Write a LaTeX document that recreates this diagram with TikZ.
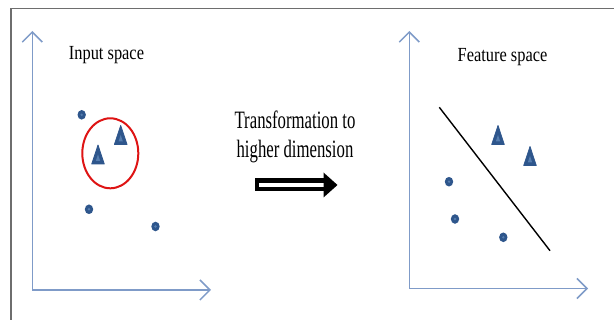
\documentclass[tikz,border=0pt]{standalone}
\usepackage{fontspec}
\setmainfont{Liberation Serif}
\newfontfamily\titlefont[FakeStretch=0.82]{Liberation Serif}
\newfontfamily\transfont[FakeStretch=0.67]{Liberation Serif}
\usetikzlibrary{arrows.meta}
\definecolor{axiscol}{RGB}{127,155,200}
\definecolor{ptcol}{RGB}{46,86,140}
\definecolor{ptlight}{RGB}{85,125,175}
\definecolor{framecol}{RGB}{110,110,110}
\definecolor{ringcol}{RGB}{222,20,20}
\begin{document}
\begin{tikzpicture}[x=1pt,y=-1pt,
  axisline/.style={draw=axiscol,line width=1.6pt,-{Straight Barb[length=10pt,width=20pt,line width=1.5pt]}},
  titletext/.style={anchor=base,inner sep=0pt,font=\titlefont\fontsize{20}{24}\selectfont},
  transtext/.style={anchor=base,inner sep=0pt,font=\transfont\fontsize{25}{30}\selectfont},
  ptdot/.pic={\fill[ptcol] (0,0) ellipse [x radius=4.2,y radius=4.8];
              \fill[ptlight] (0,0) circle [radius=1.3];},
  pttri/.pic={\fill[ptcol,draw=ptcol,line width=0.8pt,line join=round] (0,-9.5) -- (6.3,9.5) -- (-6.3,9.5) -- cycle;
              \fill[ptlight] (0,0) -- (2.2,6.5) -- (-2.2,6.5) -- cycle;}
]
\useasboundingbox (0,0) rectangle (614,320);
% frame
\draw[framecol,line width=1.5pt] (11,321) -- (11,8.5) -- (615,8.5);

% left axes
\coordinate (lo) at (32.3,290);
\coordinate (ly) at (32.3,31);
\coordinate (lx) at (211,290);
\draw[axisline] (lo) -- (ly);
\draw[axisline] (lo) -- (lx);

% right axes
\coordinate (ro) at (409.3,288.5);
\coordinate (ry) at (409.3,31);
\coordinate (rx) at (588,288.5);
\draw[axisline] (ro) -- (ry);
\draw[axisline] (ro) -- (rx);

% titles
\node[titletext] (tin) at (106.5,60) {Input space};
\node[titletext] (tfeat) at (502.5,62) {Feature space};

% transformation text
\node[transtext] (tr1) at (295,129) {Transformation to};
\node[transtext] (tr2) at (295,157.5) {higher dimension};

% double arrow
\fill[black] (255,178.5) rectangle (326,191.5);
\fill[white] (258.5,183) rectangle (327,187);
\fill[black] (323.5,172.5) -- (337.5,185) -- (323.5,197.5) -- cycle;

% left points
\pic at (81.7,114.8) {ptdot};
\pic at (89,209.3) {ptdot};
\pic at (155.5,226.5) {ptdot};
\pic at (98,154.5) {pttri};
\pic at (120.7,135) {pttri};
\draw[ringcol,line width=2pt] (110.3,153.3) ellipse [x radius=28,y radius=35];

% right points
\draw[black,line width=1.4pt] (439.3,107.3) -- (550,250.7);
\pic at (498,135) {pttri};
\pic at (530,156) {pttri};
\pic at (449,181.7) {ptdot};
\pic at (455,219) {ptdot};
\pic at (503.3,237.3) {ptdot};
\end{tikzpicture}
\end{document}
